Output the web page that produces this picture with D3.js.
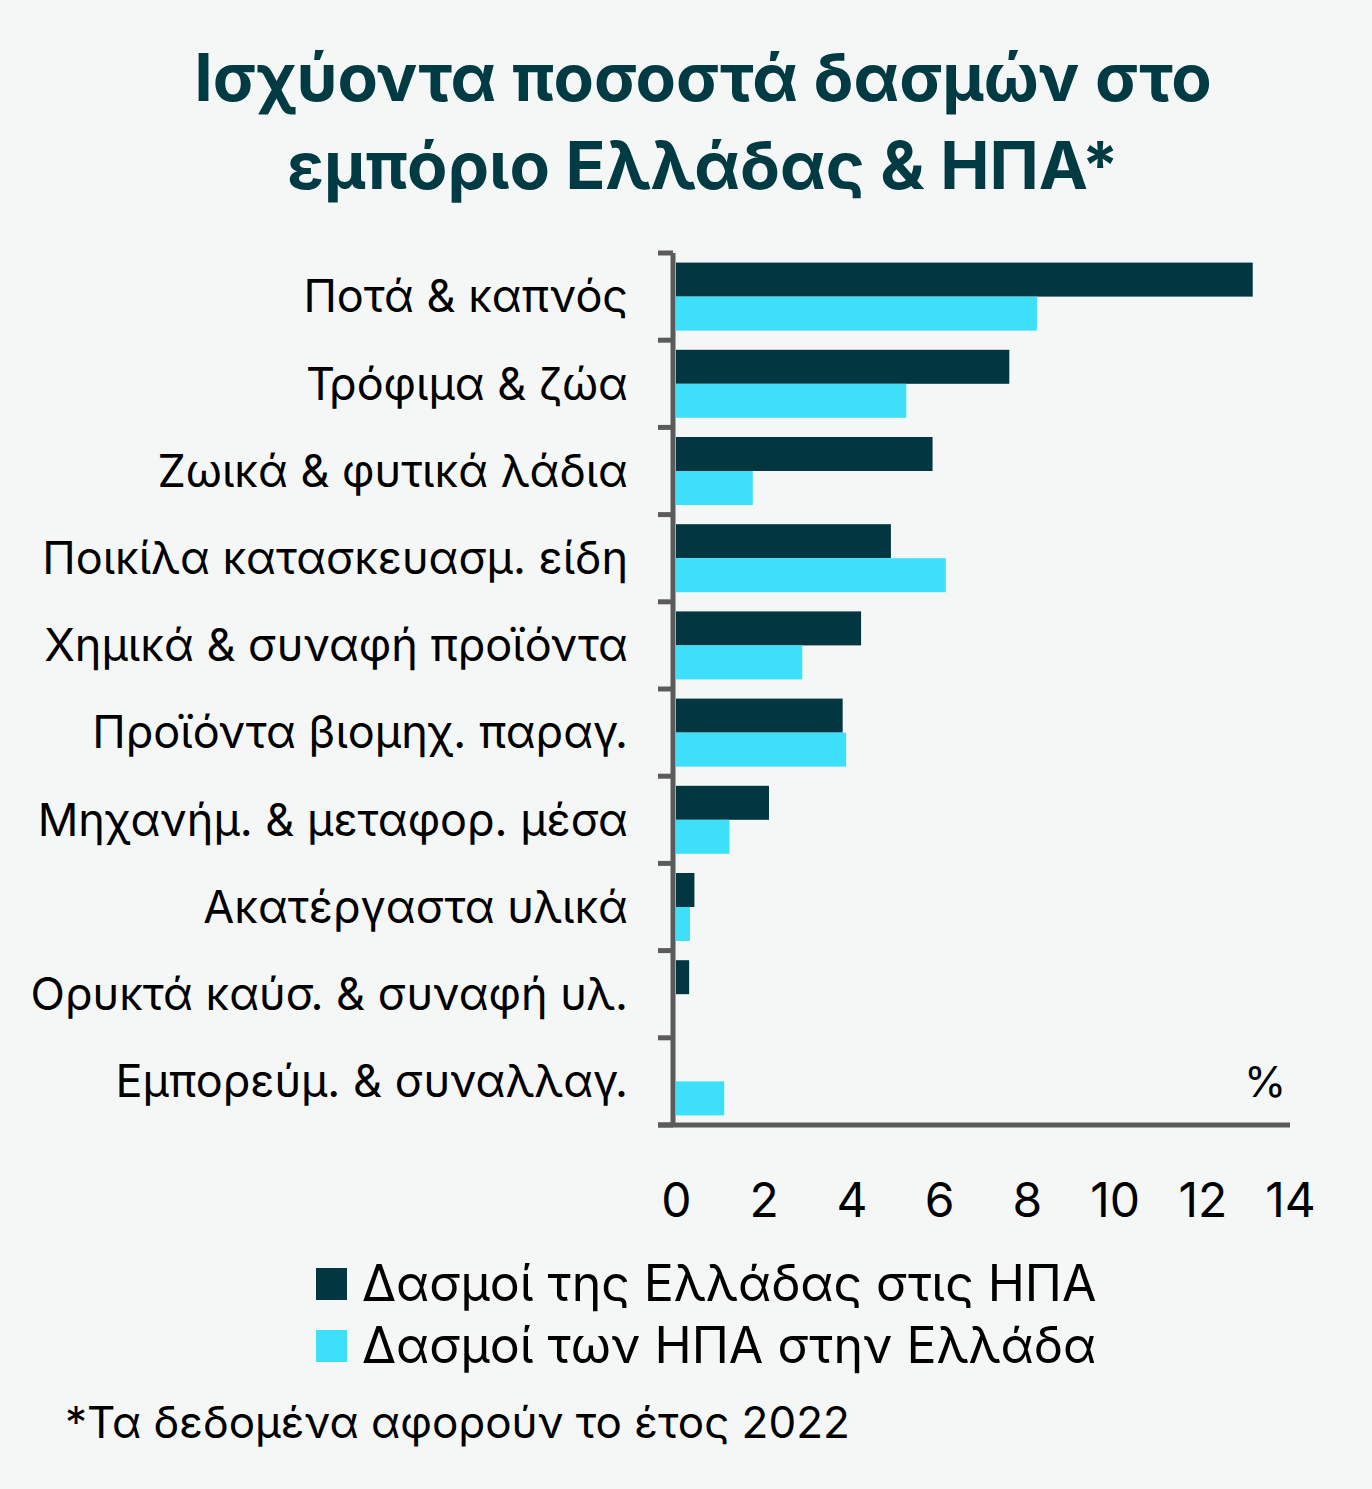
<!DOCTYPE html>
<html>
<head>
<meta charset="utf-8">
<script src="https://cdn.jsdelivr.net/npm/d3@7"></script>
<style>
  html, body { margin: 0; padding: 0; background: #f5f7f6; }
  svg { display: block; }
  text { font-family: Inter, "Noto Sans", sans-serif; fill: #000; }
</style>
</head>
<body>
<svg id="chart" width="1372" height="1489"></svg>
<script>
"use strict";

const categories = [
    "Ποτά & καπνός",
    "Τρόφιμα & ζώα",
    "Ζωικά & φυτικά λάδια",
    "Ποικίλα κατασκευασμ. είδη",
    "Χημικά & συναφή προϊόντα",
    "Προϊόντα βιομηχ. παραγ.",
    "Μηχανήμ. & μεταφορ. μέσα",
    "Ακατέργαστα υλικά",
    "Ορυκτά καύσ. & συναφή υλ.",
    "Εμπορεύμ. & συναλλαγ."
];
const greeceToUS = [13.15, 7.6, 5.85, 4.9, 4.22, 3.8, 2.12, 0.42, 0.3, 0];
const usToGreece = [8.23, 5.25, 1.75, 6.15, 2.88, 3.88, 1.22, 0.32, 0, 1.1];
const seriesNames = ["Δασμοί της Ελλάδας στις ΗΠΑ", "Δασμοί των ΗΠΑ στην Ελλάδα"];
const xTicks = [0, 2, 4, 6, 8, 10, 12, 14];

const colors = ["#023742", "#3ddff9"];
const axisColor = "#5b5b5b";

const svg = d3.select("#chart");

svg.append("rect")
    .attr("width", 1372).attr("height", 1489)
    .attr("fill", "#f5f7f6");

// title
const title = svg.append("text")
    .attr("text-anchor", "middle")
    .style("font-size", "66px")
    .style("font-weight", "bold")
    .style("fill", "#003a42");
title.append("tspan").attr("x", 703).attr("y", 101).text("Ισχύοντα ποσοστά δασμών στο");
title.append("tspan").attr("x", 703).attr("y", 189).text("εμπόριο Ελλάδας & ΗΠΑ*");

// scales
const x = d3.scaleLinear().domain([0, 14]).range([676, 1290]);
const y = d3.scaleBand().domain(categories).range([253, 1125])
    .paddingInner(0.22).paddingOuter(0.11);
const inner = d3.scaleBand().domain([0, 1]).range([0, y.bandwidth()]);

// bars
const groups = svg.selectAll(".cat")
    .data(categories)
    .enter().append("g")
    .attr("class", "cat")
    .attr("transform", d => "translate(0," + y(d) + ")");

groups.selectAll("rect")
    .data((d, i) => [greeceToUS[i], usToGreece[i]])
    .enter().append("rect")
    .attr("x", x(0))
    .attr("y", (d, j) => inner(j))
    .attr("height", inner.bandwidth())
    .attr("width", d => x(d) - x(0))
    .attr("fill", (d, j) => colors[j]);

// category labels
svg.selectAll(".catlabel")
    .data(categories)
    .enter().append("text")
    .attr("class", "catlabel")
    .attr("x", 628)
    .attr("y", d => y(d) + y.bandwidth() / 2)
    .attr("dy", "0.35em")
    .attr("text-anchor", "end")
    .style("font-size", "45px")
    .text(d => d);

// vertical axis with boundary ticks
const step = y.step();
const bounds = d3.range(categories.length + 1).map(i => y.range()[0] + i * step);
svg.append("line")
    .attr("x1", 673).attr("x2", 673)
    .attr("y1", bounds[0]).attr("y2", 1127)
    .attr("stroke", axisColor).attr("stroke-width", 5);
svg.selectAll(".btick")
    .data(bounds)
    .enter().append("line")
    .attr("class", "btick")
    .attr("x1", 658).attr("x2", 673)
    .attr("y1", d => d).attr("y2", d => d)
    .attr("stroke", axisColor).attr("stroke-width", 5);

// horizontal axis
const xAxis = svg.append("g")
    .attr("transform", "translate(0,1125)")
    .call(d3.axisBottom(x).tickValues(xTicks).tickSize(0).tickPadding(58));
xAxis.select(".domain").remove();
xAxis.append("line")
    .attr("x1", 658).attr("x2", 1290)
    .attr("stroke", axisColor).attr("stroke-width", 5);
xAxis.selectAll(".tick text")
    .style("font-family", "Inter, \"Noto Sans\", sans-serif")
    .style("font-size", "48px")
    .style("fill", "#000");

svg.append("text")
    .attr("x", 1265).attr("y", 1097)
    .attr("text-anchor", "middle")
    .style("font-size", "43px")
    .text("%");

// legend
const legend = svg.selectAll(".legend")
    .data(seriesNames)
    .enter().append("g")
    .attr("class", "legend")
    .attr("transform", (d, i) => "translate(316," + (1268 + i * 62) + ")");
legend.append("rect")
    .attr("width", 31).attr("height", 32)
    .attr("fill", (d, i) => colors[i]);
legend.append("text")
    .attr("x", 46).attr("y", 33)
    .style("font-size", "50px")
    .text(d => d);

// footnote
svg.append("text")
    .attr("x", 65).attr("y", 1438)
    .style("font-size", "44px")
    .text("*Τα δεδομένα αφορούν το έτος 2022");
</script>
</body>
</html>
